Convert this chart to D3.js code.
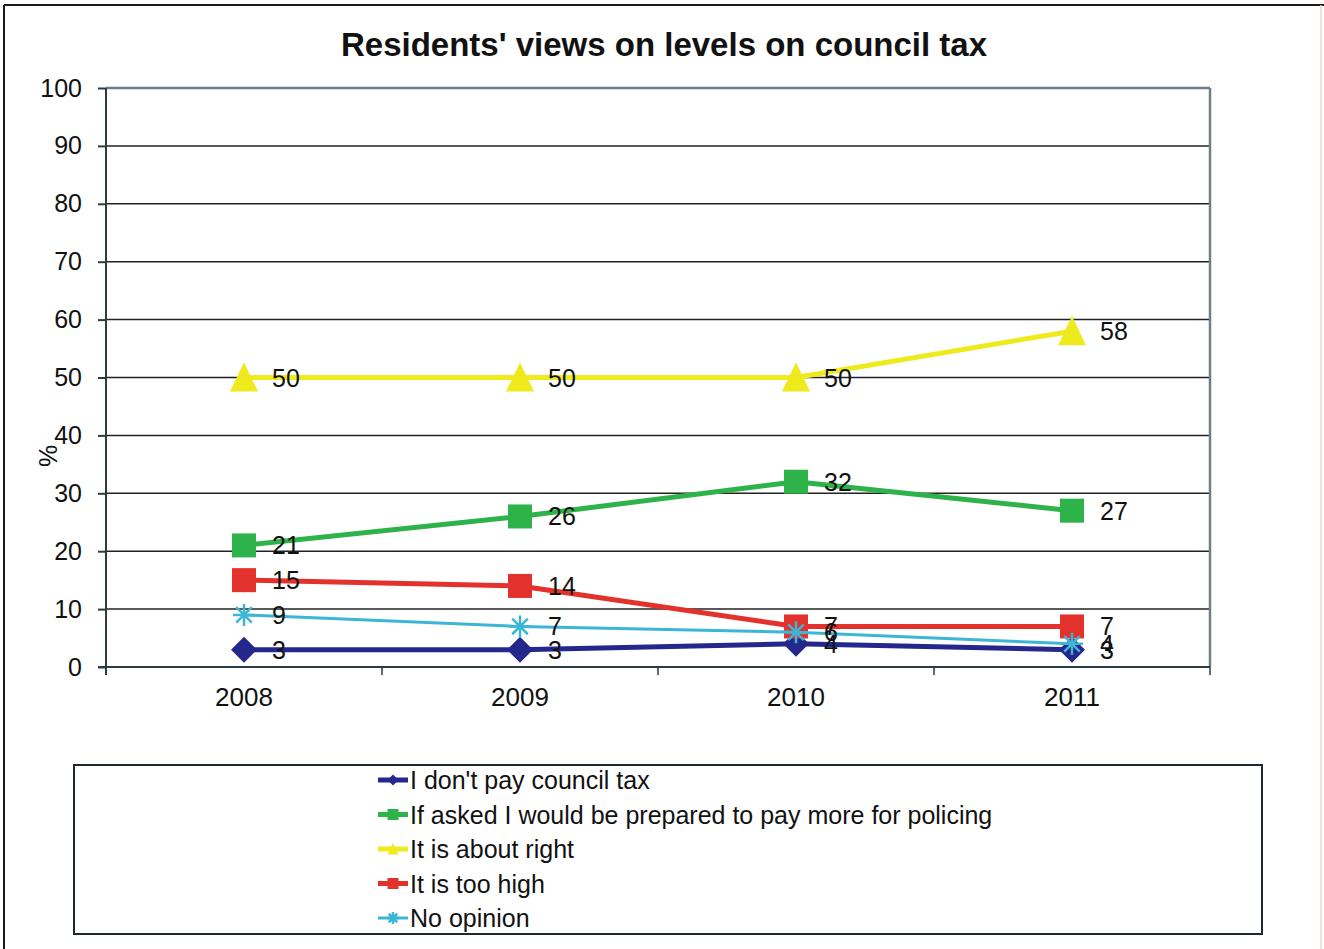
<!DOCTYPE html>
<html>
<head>
<meta charset="utf-8">
<script src="https://cdn.jsdelivr.net/npm/d3@7"></script>
<style>
  html, body { margin: 0; padding: 0; background: #fff; }
  svg { display: block; font-family: "Liberation Sans", Arial, sans-serif; }
</style>
</head>
<body>
<svg id="chart" width="1324" height="949"></svg>
<script>
// Survey years
const years = ["2008", "2009", "2010", "2011"];

// Series values (%)
const dontPay      = [3, 3, 4, 3];
const payMore      = [21, 26, 32, 27];
const aboutRight   = [50, 50, 50, 58];
const tooHigh      = [15, 14, 7, 7];
const noOpinion    = [9, 7, 6, 4];

const yTicks = [0, 10, 20, 30, 40, 50, 60, 70, 80, 90, 100];

const series = [
  { name: "I don't pay council tax", values: dontPay, color: "#24278c", marker: "diamond", width: 5 },
  { name: "If asked I would be prepared to pay more for policing", values: payMore, color: "#2eb24a", marker: "square", width: 5 },
  { name: "It is about right", values: aboutRight, color: "#eeea1e", marker: "triangle", width: 5 },
  { name: "It is too high", values: tooHigh, color: "#e3312b", marker: "square", width: 5 },
  { name: "No opinion", values: noOpinion, color: "#3db6d6", marker: "asterisk", width: 3 }
];

const svg = d3.select("#chart");
const W = 1324, H = 949;
const plot = { left: 106, right: 1210, top: 88, bottom: 667 };
const FONT = 25;

// Outer frame
svg.append("line").attr("x1", 4).attr("x2", W).attr("y1", 5).attr("y2", 5)
  .attr("stroke", "#1a1a1a").attr("stroke-width", 2);
svg.append("line").attr("x1", 4).attr("x2", 4).attr("y1", 5).attr("y2", H)
  .attr("stroke", "#1a1a1a").attr("stroke-width", 2);
svg.append("line").attr("x1", 1321).attr("x2", 1321).attr("y1", 5).attr("y2", H)
  .attr("stroke", "#f3d6cc").attr("stroke-width", 1.5);

// Title
svg.append("text")
  .attr("x", 664).attr("y", 56)
  .attr("text-anchor", "middle")
  .attr("font-size", 33).attr("font-weight", "bold").attr("fill", "#111")
  .text("Residents' views on levels on council tax");

const x = d3.scaleBand().domain(years).range([plot.left, plot.right]);
const y = d3.scaleLinear().domain([0, 100]).range([plot.bottom, plot.top]);

// Gridlines
svg.append("g").selectAll("line").data(yTicks.filter(d => d > 0)).join("line")
  .attr("x1", plot.left).attr("x2", plot.right)
  .attr("y1", d => y(d)).attr("y2", d => y(d))
  .attr("stroke", d => d === 100 ? "#6f7f86" : "#222")
  .attr("stroke-width", d => d === 100 ? 2.5 : 1.5);

// Right border of plot area
svg.append("line")
  .attr("x1", plot.right).attr("x2", plot.right)
  .attr("y1", plot.top).attr("y2", plot.bottom)
  .attr("stroke", "#6f7f86").attr("stroke-width", 2.5);

// Y axis
const yAxis = svg.append("g")
  .attr("transform", `translate(${plot.left},0)`)
  .call(d3.axisLeft(y).tickValues(yTicks).tickSize(8).tickPadding(16));
yAxis.select(".domain").attr("stroke", "#2b3b40").attr("stroke-width", 2)
  .attr("d", `M0,${plot.top}V${plot.bottom + 8}`);
yAxis.selectAll(".tick line").attr("stroke", "#2b3b40").attr("stroke-width", 2);
yAxis.selectAll(".tick text").attr("font-size", FONT).attr("fill", "#111")
  .attr("font-family", "Liberation Sans, Arial, sans-serif");

// X axis: ticks sit on category boundaries
const xAxis = svg.append("g")
  .attr("transform", `translate(0,${plot.bottom})`)
  .call(d3.axisBottom(x).tickSize(0).tickPadding(21));
xAxis.select(".domain").attr("stroke", "#2b3b40").attr("stroke-width", 2)
  .attr("d", `M${plot.left - 8},0H${plot.right}`);
xAxis.selectAll(".tick text").attr("font-size", 26).attr("fill", "#111")
  .attr("font-family", "Liberation Sans, Arial, sans-serif");
const boundaries = years.map(d => x(d)).concat([x(years[years.length - 1]) + x.bandwidth()]);
svg.append("g").selectAll("line").data(boundaries).join("line")
  .attr("x1", d => d).attr("x2", d => d)
  .attr("y1", plot.bottom).attr("y2", plot.bottom + 8)
  .attr("stroke", "#2b3b40").attr("stroke-width", 1.5);

// Y axis title
svg.append("text")
  .attr("transform", "translate(57,456) rotate(-90)")
  .attr("text-anchor", "middle")
  .attr("font-size", FONT).attr("fill", "#111")
  .text("%");

const cx = d => x(d) + x.bandwidth() / 2;

function drawMarker(g, type, color, size) {
  const s = size;
  if (type === "diamond") {
    g.append("path").attr("d", `M0,${-s / 2}L${s / 2},0L0,${s / 2}L${-s / 2},0Z`).attr("fill", color);
  } else if (type === "square") {
    g.append("rect").attr("x", -s / 2).attr("y", -s / 2).attr("width", s).attr("height", s).attr("fill", color);
  } else if (type === "triangle") {
    const h = s * 1.05;
    g.append("path").attr("d", `M0,${-h * 0.52}L${s / 2},${h * 0.48}L${-s / 2},${h * 0.48}Z`).attr("fill", color);
  } else if (type === "asterisk") {
    const r = s / 2;
    const p = [];
    for (let i = 0; i < 4; i++) {
      const a = Math.PI / 4 * i;
      p.push(`M${-r * Math.cos(a)},${-r * Math.sin(a)}L${r * Math.cos(a)},${r * Math.sin(a)}`);
    }
    g.append("path").attr("d", p.join("")).attr("stroke", color).attr("stroke-width", 2.5).attr("fill", "none");
  }
}

const markerSize = { diamond: 26, square: 24, triangle: 28, asterisk: 22 };

const line = d3.line().x(d => cx(d.year)).y(d => y(d.value));

series.forEach(s => {
  const pts = years.map((yr, i) => ({ year: yr, value: s.values[i] }));
  const g = svg.append("g");
  g.append("path").datum(pts).attr("d", line)
    .attr("fill", "none").attr("stroke", s.color).attr("stroke-width", s.width)
    .attr("stroke-linejoin", "round");
  pts.forEach(p => {
    const mg = g.append("g").attr("transform", `translate(${cx(p.year)},${y(p.value)})`);
    drawMarker(mg, s.marker, s.color, markerSize[s.marker]);
  });
});

// Data labels
series.forEach(s => {
  svg.append("g").selectAll("text").data(years.map((yr, i) => ({ year: yr, value: s.values[i] }))).join("text")
    .attr("x", d => cx(d.year) + 28)
    .attr("y", d => y(d.value) + 9)
    .attr("font-size", FONT).attr("fill", "#111")
    .text(d => d.value);
});

// Legend
const legend = svg.append("g");
legend.append("rect")
  .attr("x", 74).attr("y", 765).attr("width", 1188).attr("height", 169)
  .attr("fill", "#fff").attr("stroke", "#1e2a2e").attr("stroke-width", 2);
series.forEach((s, i) => {
  const ly = 780 + i * 34.5;
  const lg = legend.append("g");
  lg.append("line").attr("x1", 378).attr("x2", 408).attr("y1", ly).attr("y2", ly)
    .attr("stroke", s.color).attr("stroke-width", s.width);
  const mg = lg.append("g").attr("transform", `translate(393,${ly})`);
  drawMarker(mg, s.marker, s.color, s.marker === "asterisk" ? 12 : 11);
  lg.append("text").attr("x", 410).attr("y", ly + 9)
    .attr("font-size", FONT).attr("fill", "#111").text(s.name);
});
</script>
</body>
</html>
